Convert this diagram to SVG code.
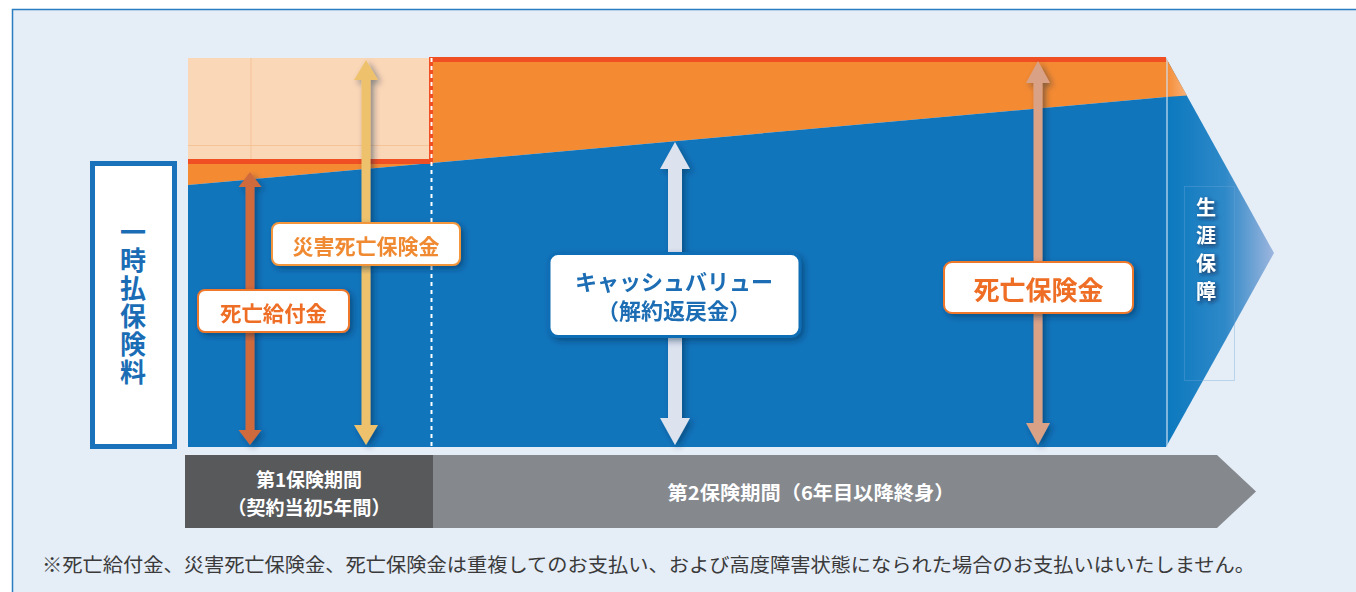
<svg xmlns="http://www.w3.org/2000/svg" width="1356" height="592" viewBox="0 0 1356 592">
<defs>
<style>
.jp{font-family:"Noto Sans CJK JP","Noto Sans",sans-serif;}
.b{font-weight:700;}
.lab{fill:#fff;stroke:#F0782A;stroke-width:2;}
.ot{fill:#EE6E26;font-size:21px;font-weight:700;text-anchor:middle;dominant-baseline:central;}
.wt{fill:#fff;font-size:19px;font-weight:700;text-anchor:middle;dominant-baseline:central;}
.vt{fill:#1A6DB5;font-size:26px;font-weight:700;}
.st{fill:#fff;font-size:20px;font-weight:700;}
</style>
<filter id="sh" x="-50%" y="-20%" width="200%" height="140%">
<feDropShadow dx="3" dy="3" stdDeviation="3" flood-color="#0a2345" flood-opacity="0.45"/>
</filter>
<filter id="tsh" x="-50%" y="-50%" width="200%" height="200%">
<feDropShadow dx="2" dy="2" stdDeviation="2" flood-color="#1a1a40" flood-opacity="0.8"/>
</filter>
<linearGradient id="chev" x1="0" y1="0" x2="1" y2="0">
<stop offset="0" stop-color="#0A78BE"/>
<stop offset="0.55" stop-color="#2F89C8"/>
<stop offset="1" stop-color="#9DB6DE"/>
</linearGradient>
<linearGradient id="chevO" x1="0" y1="0" x2="1" y2="0">
<stop offset="0" stop-color="#F48B33"/>
<stop offset="1" stop-color="#F8B27A"/>
</linearGradient>
</defs>

<!-- background frame -->
<rect x="12.5" y="9.5" width="1400" height="620" fill="#E5EDF7" stroke="#2A7DC0" stroke-width="1.5"/>

<!-- chart area -->
<g id="chart">
<rect x="188" y="58" width="243" height="103" fill="#FAD7B7"/>
<line x1="251" y1="58" x2="251" y2="161" stroke="#F5C398" stroke-width="1"/>
<line x1="188" y1="145.5" x2="431" y2="145.5" stroke="#F5C398" stroke-width="1"/>
<polygon points="1166,58 1274,253 1166,447" fill="url(#chev)"/>
<polygon points="1166,58 1187,95.5 1166,97" fill="url(#chevO)"/>
<polygon points="188,164 431,164 431,62 1166,62 1166,97 188,185" fill="#F48B33"/>
<polygon points="188,185 1166,97 1166,447 188,447" fill="#1175BC"/>
<rect x="188" y="159" width="244" height="5" fill="#F04E23"/>
<rect x="430" y="57" width="736" height="5" fill="#F04E23"/>
<rect x="429" y="57" width="4" height="107" fill="#F04E23"/>
<line x1="431.5" y1="58" x2="431.5" y2="447" stroke="#fff" stroke-width="2" stroke-dasharray="4 4"/>
<line x1="1167" y1="58" x2="1167" y2="447" stroke="#CFE0F2" stroke-width="1.2"/>
</g>

<!-- connectors: double arrows -->
<g id="connectors" filter="url(#sh)">
<polygon id="arrow-shibou-kyufu" fill="#CF6A3E" points="250,172 261.5,187 254.5,187 254.5,430 261.5,430 250,445 238.5,430 245.5,430 245.5,187 238.5,187"/>
<polygon id="arrow-saigai" fill="#EEC26C" points="366,60 378,80 370.5,80 370.5,425 378,425 366,445 354,425 361.5,425 361.5,80 354,80"/>
<polygon id="arrow-cash" fill="#DCE2EE" points="675,142 690,169 682,169 682,418 690,418 675,445 660,418 668,418 668,169 660,169"/>
<polygon id="arrow-shibou-hoken" fill="#D9A186" points="1038,61 1050,83 1042.5,83 1042.5,423 1050,423 1038,445 1026,423 1033.5,423 1033.5,83 1026,83"/>
</g>

<!-- left node -->
<g id="node-ichiji">
<rect x="92.5" y="163.5" width="82" height="283" fill="#fff" stroke="#1A72BA" stroke-width="5"/>
<text class="jp vt" x="133" y="219" writing-mode="vertical-rl" style="text-orientation:upright" letter-spacing="2">一時払保険料</text>
</g>

<!-- labels -->
<g id="node-saigai" filter="url(#sh)">
<rect class="lab" x="272" y="223" width="188" height="42" rx="7" style="stroke:#F3953A"/>
<text class="jp ot" x="366" y="245" fill="#F08A30" style="fill:#F08A30" textLength="147" lengthAdjust="spacingAndGlyphs">災害死亡保険金</text>
</g>
<g id="node-shibou-kyufu" filter="url(#sh)">
<rect class="lab" x="198" y="290" width="151" height="42" rx="7"/>
<text class="jp ot" x="273.5" y="312" textLength="107" lengthAdjust="spacingAndGlyphs">死亡給付金</text>
</g>
<g id="node-cash" filter="url(#sh)">
<rect x="549" y="253.5" width="251" height="83" rx="9" fill="#fff" stroke="#0F6DB5" stroke-width="3"/>
<text class="jp b" x="674" y="280" fill="#1B6DB4" font-size="22" text-anchor="middle" dominant-baseline="central" textLength="198" lengthAdjust="spacingAndGlyphs">キャッシュバリュー</text>
<text class="jp b" x="674" y="309" fill="#1B6DB4" font-size="22" text-anchor="middle" dominant-baseline="central">（解約返戻金）</text>
</g>
<g id="node-shibou-hoken" filter="url(#sh)">
<rect class="lab" x="944" y="262" width="189" height="51" rx="8"/>
<text class="jp ot" x="1038.5" y="288" style="font-size:26px" textLength="130" lengthAdjust="spacingAndGlyphs">死亡保険金</text>
</g>

<!-- lifetime coverage -->
<g id="node-shougai">
<rect x="1184.5" y="186.5" width="50" height="194" fill="none" stroke="#6AA6D8" stroke-width="0.8" opacity="0.45"/>
<text class="jp st" x="1206" y="197" writing-mode="vertical-rl" style="text-orientation:upright" letter-spacing="8" filter="url(#tsh)">生涯保障</text>
</g>

<!-- period bars -->
<g id="node-period2">
<polygon points="433,455 1217,455 1256,491.5 1217,528 433,528" fill="#85888D"/>
<text class="jp wt" x="811" y="491" textLength="287" lengthAdjust="spacingAndGlyphs">第2保険期間（6年目以降終身）</text>
</g>
<g id="node-period1">
<rect x="185" y="455" width="248" height="73" fill="#58595B"/>
<text class="jp wt" x="309" y="478">第1保険期間</text>
<text class="jp wt" x="309" y="506" textLength="163" lengthAdjust="spacingAndGlyphs">（契約当初5年間）</text>
</g>

<!-- footnote -->
<text class="jp" x="42" y="572" fill="#3A3A3A" font-size="19" textLength="1213" lengthAdjust="spacingAndGlyphs">※死亡給付金、災害死亡保険金、死亡保険金は重複してのお支払い、および高度障害状態になられた場合のお支払いはいたしません。</text>
</svg>
